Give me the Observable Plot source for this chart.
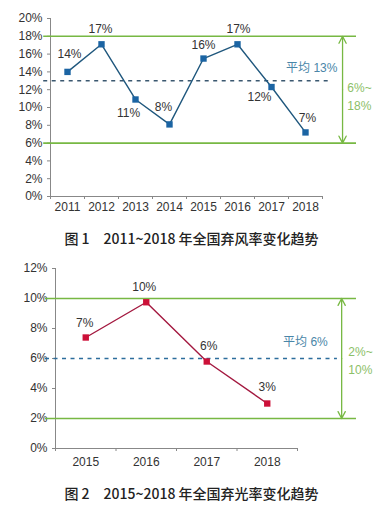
<!DOCTYPE html>
<html><head><meta charset="utf-8">
<script src="https://cdn.jsdelivr.net/npm/d3@7"></script>
<script src="https://cdn.jsdelivr.net/npm/@observablehq/plot@0.6"></script>
<style>
body{margin:0;background:#fff;}
#wrap{position:relative;width:383px;height:512px;overflow:hidden;}
.chart{position:absolute;left:0;}
.cap{position:absolute;left:0;width:383px;text-align:center;font-family:"Noto Sans CJK SC",sans-serif;font-size:14px;font-weight:500;color:#222;line-height:20px;}
</style>
</head><body>
<div id="wrap">
  <div id="c1" class="chart" style="top:0"></div>
  <div class="cap" style="top:228px">图 1　2011~2018 年全国弃风率变化趋势</div>
  <div id="c2" class="chart" style="top:255px"></div>
  <div class="cap" style="top:483px">图 2　2015~2018 年全国弃光率变化趋势</div>
</div>
<script>
// ---- data ----
const windYears = [2011, 2012, 2013, 2014, 2015, 2016, 2017, 2018];
const windRates = [14.0, 17.1, 10.9, 8.1, 15.5, 17.1, 12.3, 7.2];
const windLabels = ["14%", "17%", "11%", "8%", "16%", "17%", "12%", "7%"];
const windAvg = 13;
const windAvgLabel = "平均 13%";
const windRange = [6, 18];
const windRangeLabel = "6%~\n18%";
const windYTicks = [0, 2, 4, 6, 8, 10, 12, 14, 16, 18, 20];

const solarYears = [2015, 2016, 2017, 2018];
const solarRates = [7.4, 9.75, 5.8, 3.0];
const solarLabels = ["7%", "10%", "6%", "3%"];
const solarAvg = 6;
const solarAvgLabel = "平均 6%";
const solarRange = [2, 10];
const solarRangeLabel = "2%~\n10%";
const solarYTicks = [0, 2, 4, 6, 8, 10, 12];

const FONT = '"Liberation Sans","Noto Sans CJK SC",sans-serif';
const GREEN = "#77b843";

function makeChart(cfg) {
  const years = cfg.years;
  const data = years.map((y, i) => ({year: y, rate: cfg.rates[i], label: cfg.labels[i]}));
  const x0 = years[0] - 0.5, x1 = years[years.length - 1] + 0.5;
  const bounds = d3.range(x0, x1 + 0.01, 1);
  const mid = (cfg.range[0] + cfg.range[1]) / 2;
  const labelMarks = data.map((d, i) => Plot.text([d], {
    x: "year", y: "rate", text: "label",
    dx: cfg.labelOff[i][0], dy: cfg.labelOff[i][1],
    fontSize: 12, fill: "#333"
  }));
  return Plot.plot({
    width: 383, height: cfg.height,
    marginLeft: cfg.ml, marginRight: cfg.mr, marginTop: cfg.mt, marginBottom: cfg.mb,
    style: {fontFamily: FONT, fontSize: "12px", background: "transparent", overflow: "visible"},
    x: {type: "linear", domain: [x0, x1]},
    y: {domain: cfg.yDomain},
    marks: [
      Plot.axisY({ticks: cfg.yTicks, tickFormat: d => d + "%", tickSize: 3, tickPadding: 5, stroke: "#888", fill: "#333", label: null}),
      Plot.axisX({ticks: bounds, tickFormat: () => "", tickSize: 3, stroke: "#888", label: null}),
      Plot.axisX({ticks: years, tickFormat: d => String(d), tickSize: 0, tickPadding: cfg.xPad, fill: "#333", label: null}),
      Plot.ruleX([x0], {stroke: "#888"}),
      Plot.ruleY([0], {stroke: "#888"}),
      Plot.ruleY(cfg.range, {x1: cfg.gx1, x2: cfg.gx2, stroke: GREEN, strokeWidth: 1.6}),
      Plot.ruleY([cfg.avg], {x1: cfg.gx1, x2: cfg.dashX2, stroke: cfg.dashColor, strokeWidth: 1.5, strokeDasharray: "4,4.5"}),
      Plot.arrow(cfg.range, {x1: () => cfg.arrowX, x2: () => cfg.arrowX, y1: () => mid, y2: d => d,
        stroke: GREEN, strokeWidth: 1.3, headLength: 9, headAngle: 55}),
      Plot.line(data, {x: "year", y: "rate", stroke: cfg.lineColor, strokeWidth: 1.4}),
      Plot.dot(data, {x: "year", y: "rate", symbol: "square", r: 3.6, fill: cfg.dotColor, stroke: "none"}),
      ...labelMarks,
      Plot.text([cfg.avgLabel], {x: cfg.avgX, y: cfg.avgY, text: d => d, textAnchor: "end", fill: cfg.avgColor, fontSize: 12}),
      Plot.text([cfg.rangeLabel], {x: cfg.rangeX, y: cfg.rangeY, text: d => d, textAnchor: "start", fill: "#8cc068", fontSize: 12, lineHeight: 1.5})
    ]
  });
}

document.getElementById("c1").append(makeChart({
  years: windYears, rates: windRates, labels: windLabels,
  labelOff: [[2, -18], [-1, -15], [-7, 14], [-6, -17], [0, -13], [1, -15], [-12, 10], [2, -14]],
  height: 215, ml: 50, mr: 61, mt: 18, mb: 19, xPad: 6,
  yDomain: [0, 20], yTicks: windYTicks,
  range: windRange, avg: windAvg,
  gx1: 2010.3, gx2: 2019.5, dashX2: 2018.68, arrowX: 2019.09,
  dashColor: "#3b5870", lineColor: "#1f577d", dotColor: "#1b64a3",
  avgLabel: windAvgLabel, avgX: 2018.94, avgY: 14.4, avgColor: "#4a86a8",
  rangeLabel: windRangeLabel, rangeX: 2019.23, rangeY: 11.35
}));

document.getElementById("c2").append(makeChart({
  years: solarYears, rates: solarRates, labels: solarLabels,
  labelOff: [[-1, -14], [-2, -15], [2, -15], [0, -16]],
  height: 215, ml: 55, mr: 86, mt: 13, mb: 22, xPad: 9,
  yDomain: [0, 12], yTicks: solarYTicks,
  range: solarRange, avg: solarAvg,
  gx1: 2014.335, gx2: 2019.475, dashX2: 2019.16, arrowX: 2019.23,
  dashColor: "#2c6d9c", lineColor: "#a3183f", dotColor: "#cc1038",
  avgLabel: solarAvgLabel, avgX: 2019.0, avgY: 7.07, avgColor: "#4a86a8",
  rangeLabel: solarRangeLabel, rangeX: 2019.34, rangeY: 5.93
}));
</script>
</body></html>
